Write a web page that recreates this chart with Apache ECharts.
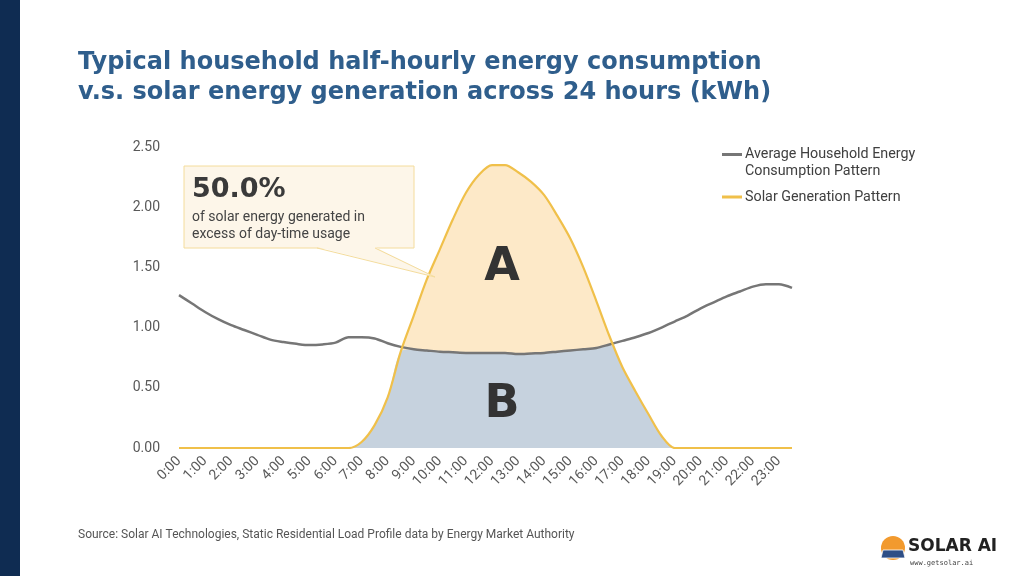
<!DOCTYPE html>
<html>
<head>
<meta charset="utf-8">
<script src="https://cdn.jsdelivr.net/npm/echarts@6/dist/echarts.min.js"></script>
<style>html,body{margin:0;padding:0;background:#fff;}#c{width:1024px;height:576px;}</style>
</head>
<body>
<div id="c"></div>
<script>
const categories = ["0:00","0:30","1:00","1:30","2:00","2:30","3:00","3:30","4:00","4:30","5:00","5:30","6:00","6:30","7:00","7:30","8:00","8:30","9:00","9:30","10:00","10:30","11:00","11:30","12:00","12:30","13:00","13:30","14:00","14:30","15:00","15:30","16:00","16:30","17:00","17:30","18:00","18:30","19:00","19:30","20:00","20:30","21:00","21:30","22:00","22:30","23:00","23:30"];
const consumption = [1.27,1.20,1.13,1.07,1.02,0.98,0.94,0.90,0.88,0.865,0.855,0.86,0.875,0.92,0.92,0.91,0.87,0.84,0.82,0.81,0.80,0.795,0.79,0.79,0.79,0.79,0.78,0.785,0.79,0.80,0.81,0.82,0.83,0.86,0.89,0.92,0.955,1.00,1.05,1.10,1.16,1.21,1.26,1.30,1.34,1.36,1.36,1.33];
const solar = [0,0,0,0,0,0,0,0,0,0,0,0,0,0,0.05,0.19,0.42,0.80,1.10,1.40,1.65,1.90,2.12,2.27,2.35,2.35,2.29,2.21,2.10,1.93,1.74,1.50,1.22,0.93,0.67,0.47,0.28,0.10,0,0,0,0,0,0,0,0,0,0];
const yTicks = [0, 0.5, 1, 1.5, 2, 2.5];
const seriesNames = ["Average Household Energy\nConsumption Pattern", "Solar Generation Pattern"];
const annotationPct = "50.0%";

const covered = solar.map((s, i) => Math.min(s, consumption[i]));

const chart = echarts.init(document.getElementById('c'), null, {renderer: 'canvas'});
const iconTop = 'path://M0,0H20V3H0Z M0,19.99H0.01V20H0Z';
const iconMid = 'path://M0,0H0.01V0.01H0Z M0,8.5H20V11.5H0Z M0,19.99H0.01V20H0Z';
const SM = 0.3;

chart.setOption({
  animation: false,
  backgroundColor: '#ffffff',
  title: {
    text: 'Typical household half-hourly energy consumption\nv.s. solar energy generation across 24 hours (kWh)',
    left: 78, top: 48, padding: 0,
    textStyle: {fontFamily: 'DejaVu Sans', fontWeight: 'bold', fontSize: 24, lineHeight: 30, color: '#2f5e8c'}
  },
  legend: {
    orient: 'vertical', left: 722, top: 146, padding: 0,
    itemWidth: 20, itemHeight: 20, itemGap: 7,
    itemStyle: {borderWidth: 0},
    textStyle: {fontFamily: 'Roboto', fontSize: 14.3, lineHeight: 17, color: '#404040', padding: [0,0,0,-2]},
    data: [{name: seriesNames[0], icon: iconTop}, {name: seriesNames[1], icon: iconMid}],
    selectedMode: false
  },
  grid: {left: 179, right: 232, top: 147, bottom: 128},
  xAxis: {
    type: 'category', data: categories, boundaryGap: false,
    axisLine: {show: false}, axisTick: {show: false}, splitLine: {show: false},
    axisLabel: {interval: 1, rotate: 45, margin: 11, fontFamily: 'Roboto', fontSize: 14, color: '#595959'}
  },
  yAxis: {
    type: 'value', min: yTicks[0], max: yTicks[yTicks.length - 1], interval: yTicks[1] - yTicks[0],
    axisLine: {show: false}, axisTick: {show: false}, splitLine: {show: false},
    axisLabel: {margin: 19, fontFamily: 'Roboto', fontSize: 14, color: '#595959', formatter: v => v.toFixed(2)}
  },
  series: [
    {name: 'solarFill', type: 'line', data: solar, symbol: 'none', smooth: SM, lineStyle: {width: 0}, areaStyle: {color: '#fde9c8', opacity: 1}, z: 1, silent: true},
    {name: 'coveredFill', type: 'line', data: covered, symbol: 'none', smooth: SM, lineStyle: {width: 0}, areaStyle: {color: '#c6d2de', opacity: 1}, z: 1, silent: true},
    {name: seriesNames[0], type: 'line', data: consumption, symbol: 'none', smooth: SM, color: '#767676', lineStyle: {width: 2.5, color: '#767676'}, z: 3},
    {name: seriesNames[1], type: 'line', data: solar, symbol: 'none', smooth: SM, color: '#f0c04a', lineStyle: {width: 2.2, color: '#f0c04a'}, z: 4}
  ],
  graphic: [
    {type: 'rect', shape: {x: 0, y: 0, width: 20, height: 576}, style: {fill: '#0f2c52'}, z: 10},
    {type: 'rect', shape: {x: 184, y: 166, width: 230, height: 82}, style: {fill: '#fdf6e9', stroke: '#f4dc9c', lineWidth: 1}, z: 10},
    {type: 'polygon', shape: {points: [[317, 247], [375, 247], [435, 277]]}, style: {fill: '#fdf6e9'}, z: 11},
    {type: 'polyline', shape: {points: [[317, 248], [435, 277], [375, 248]]}, style: {stroke: '#f4dc9c', lineWidth: 1, fill: null}, z: 11},
    {type: 'text', x: 192, y: 190, style: {text: annotationPct, fontFamily: 'DejaVu Sans', fontWeight: 'bold', fontSize: 27, fill: '#3a3a3a', verticalAlign: 'middle'}, z: 12},
    {type: 'text', x: 192, y: 226, style: {text: 'of solar energy generated in\nexcess of day-time usage', fontFamily: 'Roboto', fontSize: 14, lineHeight: 17.5, fill: '#444444', verticalAlign: 'middle'}, z: 12},
    {type: 'text', x: 502, y: 268, style: {text: 'A', fontFamily: 'DejaVu Sans', fontWeight: 'bold', fontSize: 46, fill: '#333333', align: 'center', verticalAlign: 'middle'}, z: 12},
    {type: 'text', x: 502, y: 405, style: {text: 'B', fontFamily: 'DejaVu Sans', fontWeight: 'bold', fontSize: 46, fill: '#333333', align: 'center', verticalAlign: 'middle'}, z: 12},
    {type: 'text', x: 78, y: 535, style: {text: 'Source: Solar AI Technologies, Static Residential Load Profile data by Energy Market Authority', fontFamily: 'Roboto', fontSize: 12, fill: '#555555', verticalAlign: 'middle'}, z: 12},
    {type: 'circle', shape: {cx: 893, cy: 548, r: 12}, style: {fill: '#f29a2e'}, z: 12},
    {type: 'polygon', shape: {points: [[883, 550], [903, 550], [905, 558], [881, 558]]}, style: {fill: '#2f4f86', stroke: '#ffffff', lineWidth: 0.8}, z: 13},
    {type: 'text', x: 908, y: 547, style: {text: 'SOLAR AI', fontFamily: 'DejaVu Sans', fontWeight: 'bold', fontSize: 17, fill: '#222222', verticalAlign: 'middle'}, z: 12},
    {type: 'text', x: 910, y: 563, style: {text: 'www.getsolar.ai', fontFamily: 'DejaVu Sans Mono', fontSize: 7, fill: '#444444', verticalAlign: 'middle'}, z: 12}
  ]
});
</script>
</body>
</html>
